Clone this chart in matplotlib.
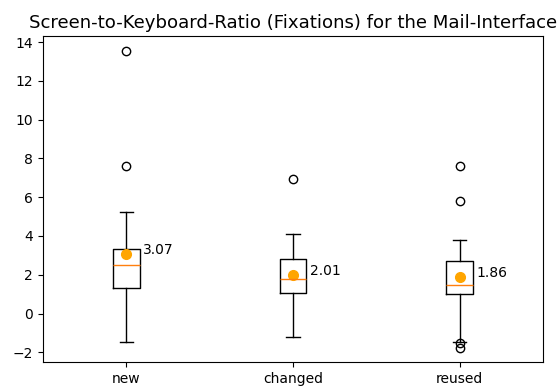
import matplotlib
matplotlib.use("Agg")
import matplotlib.pyplot as plt

# valeurs
categories = ["new", "changed", "reused"]
whislo = [-1.46, -1.22, -1.46]
q1 = [1.34, 1.08, 1.03]
med = [2.49, 1.80, 1.49]
q3 = [3.35, 2.81, 2.73]
whishi = [5.26, 4.12, 3.81]
fliers = [[13.52, 7.59], [6.96], [7.59, 5.80, -1.52, -1.77]]
means = [3.07, 2.01, 1.86]

stats = []
for i, nom in enumerate(categories):
    stats.append({
        "label": nom,
        "whislo": whislo[i],
        "q1": q1[i],
        "med": med[i],
        "q3": q3[i],
        "whishi": whishi[i],
        "fliers": fliers[i],
    })

fig = plt.figure(figsize=(5.58, 3.87), dpi=100)
ax = fig.add_axes([0.077, 0.065, 0.896, 0.842])

positions = [1, 2, 3]
ax.bxp(stats, positions=positions, widths=0.16)

# --- moyennes ---
ax.plot(positions, means, "o", color="orange", markersize=7, linestyle="none")
for p, m in zip(positions, means):
    ax.text(p + 0.1, m, f"{m:.2f}", fontsize=10)

ax.set_xlim(0.5, 3.5)
ax.set_ylim(-2.49, 14.31)
ax.set_yticks(range(-2, 15, 2))
ax.set_title("Screen-to-Keyboard-Ratio (Fixations) for the Mail-Interface", fontsize=13.1)

fig.savefig("out.png", dpi=100)
